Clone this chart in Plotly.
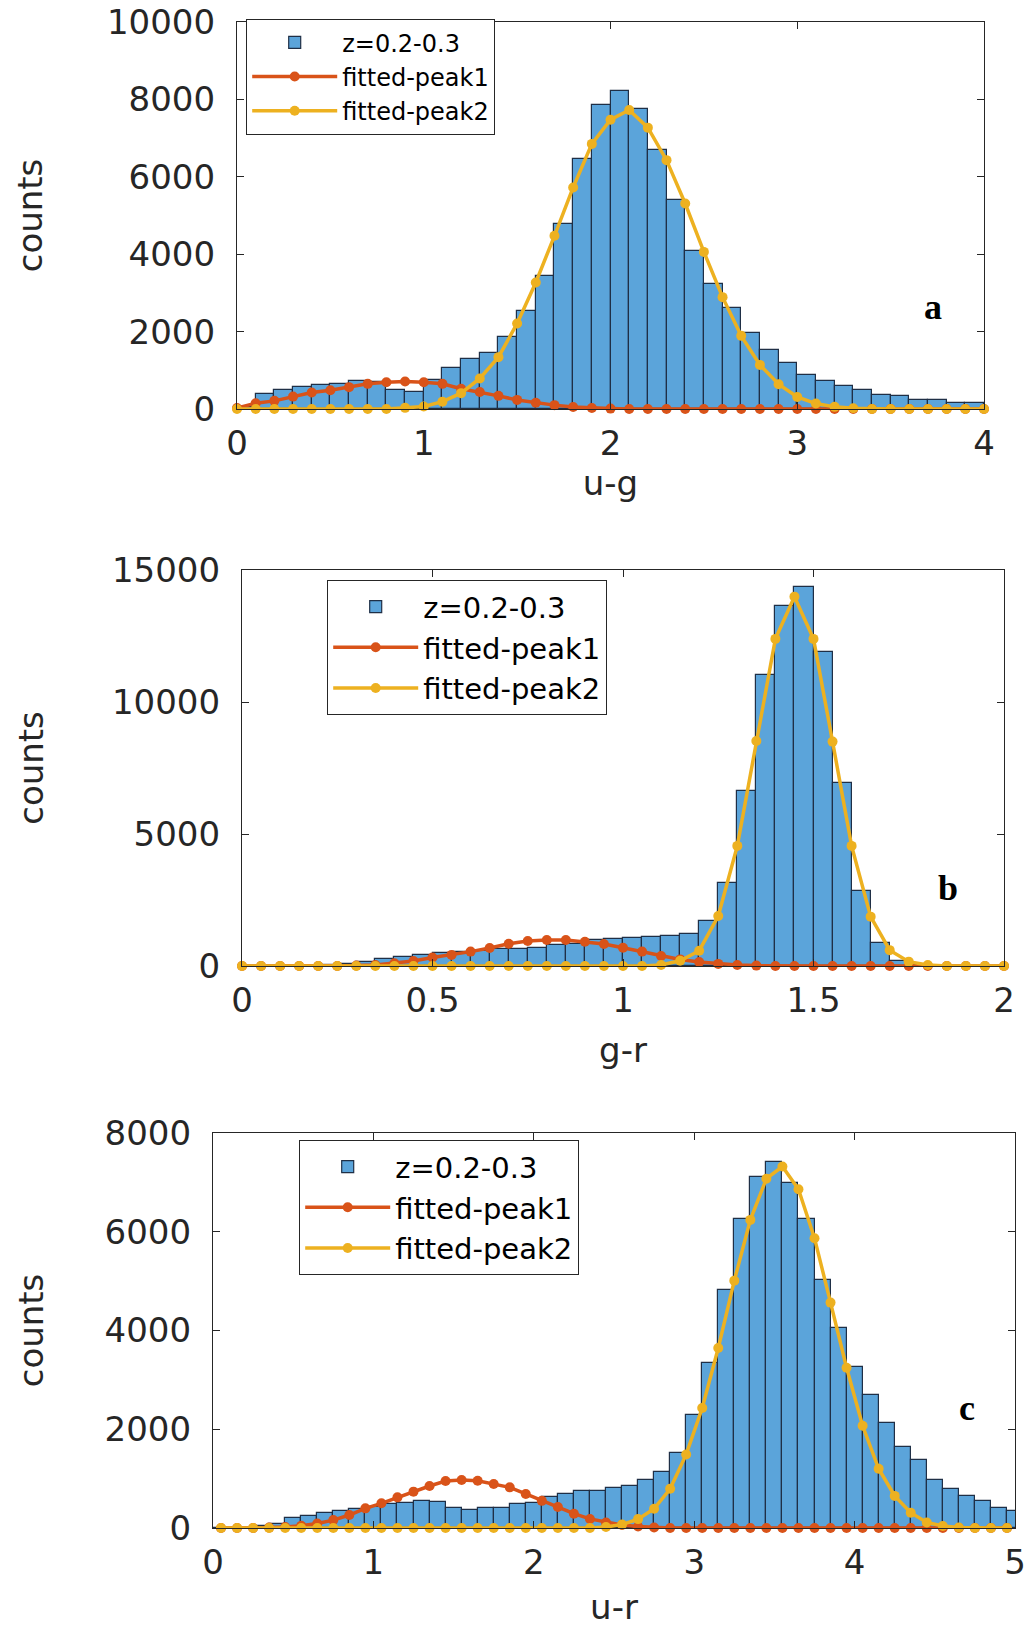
import plotly.graph_objects as go

W, H = 1035, 1627

# ---------------- Panel a : u-g ----------------
a_bin_centers = [0.05, 0.15, 0.25, 0.35, 0.45, 0.55, 0.65, 0.75, 0.85, 0.95,
                 1.05, 1.15, 1.25, 1.35, 1.45, 1.55, 1.65, 1.75, 1.85, 1.95,
                 2.05, 2.15, 2.25, 2.35, 2.45, 2.55, 2.65, 2.75, 2.85, 2.95,
                 3.05, 3.15, 3.25, 3.35, 3.45, 3.55, 3.65, 3.75, 3.85, 3.95]
a_counts = [60, 400, 500, 580, 610, 650, 730, 700, 500, 440,
            750, 1060, 1300, 1460, 1850, 2540, 3430, 4790, 6460, 7850,
            8210, 7760, 6700, 5410, 4080, 3240, 2600, 1975, 1530, 1200,
            875, 725, 600, 490, 350, 325, 240, 225, 165, 165]
a_fit_x = [0.0, 0.1, 0.2, 0.3, 0.4, 0.5, 0.6, 0.7, 0.8, 0.9,
           1.0, 1.1, 1.2, 1.3, 1.4, 1.5, 1.6, 1.7, 1.8, 1.9,
           2.0, 2.1, 2.2, 2.3, 2.4, 2.5, 2.6, 2.7, 2.8, 2.9,
           3.0, 3.1, 3.2, 3.3, 3.4, 3.5, 3.6, 3.7, 3.8, 3.9, 4.0]
a_peak1 = [25, 150, 210, 320, 425, 485, 565, 650, 690, 710,
           690, 650, 525, 440, 340, 235, 160, 100, 50, 25,
           10, 0, 0, 0, 0, 0, 0, 0, 0, 0,
           0, 0, 0, 0, 0, 0, 0, 0, 0, 0, 0]
a_peak2 = [0, 0, 0, 0, 0, 0, 0, 0, 0, 30,
           65, 190, 410, 790, 1340, 2210, 3270, 4475, 5725, 6850,
           7475, 7725, 7270, 6430, 5310, 4060, 2890, 1890, 1140, 640,
           310, 140, 55, 20, 0, 0, 0, 0, 0, 0, 0]
a_xticks = [0, 1, 2, 3, 4]
a_yticks = [0, 2000, 4000, 6000, 8000, 10000]

# ---------------- Panel b : g-r ----------------
b_bin_centers = [0.025, 0.075, 0.125, 0.175, 0.225, 0.275, 0.325, 0.375, 0.425, 0.475,
                 0.525, 0.575, 0.625, 0.675, 0.725, 0.775, 0.825, 0.875, 0.925, 0.975,
                 1.025, 1.075, 1.125, 1.175, 1.225, 1.275, 1.325, 1.375, 1.425, 1.475,
                 1.525, 1.575, 1.625, 1.675, 1.725, 1.775, 1.825, 1.875, 1.925, 1.975]
b_counts = [0, 0, 0, 0, 20, 60, 170, 280, 350, 430,
            505, 530, 560, 630, 640, 690, 790, 820, 985, 1010,
            1060, 1110, 1120, 1210, 1700, 3130, 6640, 11030, 13620, 14340,
            11910, 6920, 2840, 860, 190, 30, 0, 0, 0, 0]
b_fit_x = [0.0, 0.05, 0.1, 0.15, 0.2, 0.25, 0.3, 0.35, 0.4, 0.45,
           0.5, 0.55, 0.6, 0.65, 0.7, 0.75, 0.8, 0.85, 0.9, 0.95,
           1.0, 1.05, 1.1, 1.15, 1.2, 1.25, 1.3, 1.35, 1.4, 1.45,
           1.5, 1.55, 1.6, 1.65, 1.7, 1.75, 1.8, 1.85, 1.9, 1.95, 2.0]
b_peak1 = [0, 0, 0, 0, 0, 0, 15, 40, 100, 190,
           320, 420, 545, 680, 840, 950, 985, 985, 920, 835,
           690, 545, 380, 250, 150, 80, 40, 15, 0, 0,
           0, 0, 0, 0, 0, 0, 0, 0, 0, 0, 0]
b_peak2 = [0, 0, 0, 0, 0, 0, 0, 0, 0, 0,
           0, 0, 0, 0, 0, 0, 0, 0, 0, 0,
           0, 0, 40, 200, 580, 1895, 4550, 8525, 12390, 13990,
           12390, 8500, 4550, 1870, 600, 165, 35, 0, 0, 0, 0]
b_xticks = [0, 0.5, 1, 1.5, 2]
b_xticklabels = ["0", "0.5", "1", "1.5", "2"]
b_yticks = [0, 5000, 10000, 15000]

# ---------------- Panel c : u-r ----------------
c_bin_centers = [0.0, 0.1, 0.2, 0.3, 0.4, 0.5, 0.6, 0.7, 0.8, 0.9,
                 1.0, 1.1, 1.2, 1.3, 1.4, 1.5, 1.6, 1.7, 1.8, 1.9,
                 2.0, 2.1, 2.2, 2.3, 2.4, 2.5, 2.6, 2.7, 2.8, 2.9,
                 3.0, 3.1, 3.2, 3.3, 3.4, 3.5, 3.6, 3.7, 3.8, 3.9,
                 4.0, 4.1, 4.2, 4.3, 4.4, 4.5, 4.6, 4.7, 4.8, 4.9, 5.0]
c_counts = [0, 0, 0, 40, 90, 195, 245, 310, 345, 380,
            430, 480, 500, 555, 520, 410, 365, 400, 410, 480,
            515, 630, 695, 740, 740, 805, 845, 975, 1140, 1525,
            2290, 3340, 4825, 6260, 7110, 7410, 6990, 6260, 5025, 4050,
            3260, 2700, 2120, 1640, 1370, 975, 795, 640, 550, 405, 345]
c_fit_x = [0.05, 0.15, 0.25, 0.35, 0.45, 0.55, 0.65, 0.75, 0.85, 0.95,
           1.05, 1.15, 1.25, 1.35, 1.45, 1.55, 1.65, 1.75, 1.85, 1.95,
           2.05, 2.15, 2.25, 2.35, 2.45, 2.55, 2.65, 2.75, 2.85, 2.95,
           3.05, 3.15, 3.25, 3.35, 3.45, 3.55, 3.65, 3.75, 3.85, 3.95,
           4.05, 4.15, 4.25, 4.35, 4.45, 4.55, 4.65, 4.75, 4.85, 4.95]
c_peak1 = [0, 0, 0, 8, 20, 45, 90, 160, 263, 398,
           500, 621, 736, 850, 952, 972, 958, 891, 823, 689,
           550, 425, 290, 184, 113, 60, 30, 10, 0, 0,
           0, 0, 0, 0, 0, 0, 0, 0, 0, 0,
           0, 0, 0, 0, 0, 0, 0, 0, 0, 0]
c_peak2 = [0, 0, 0, 0, 0, 0, 0, 0, 0, 0,
           0, 0, 0, 0, 0, 0, 0, 0, 0, 0,
           0, 0, 0, 0, 20, 70, 180, 390, 795, 1490,
           2430, 3645, 5010, 6240, 7075, 7320, 6860, 5870, 4565, 3245,
           2070, 1200, 650, 310, 113, 40, 10, 0, 0, 0]
c_xticks = [0, 1, 2, 3, 4, 5]
c_yticks = [0, 2000, 4000, 6000, 8000]

legend_labels = ["z=0.2-0.3", "fitted-peak1", "fitted-peak2"]
panel_letters = ["a", "b", "c"]
x_titles = ["u-g", "g-r", "u-r"]

BAR_FILL = "#5BA4DA"
BAR_EDGE = "#1F2F46"
RED = "#D95319"
YEL = "#EDB120"
AX = "#262626"
FONT = "DejaVu Sans"

# pixel boxes of the three axes (left, right, top, bottom)
boxes = [(237, 984, 22, 409), (242, 1004, 570, 966), (213, 1015, 1133, 1528)]
# legend (left px, top px, font size)
legend_pos = [(246, 19, 24), (327, 580, 29), (299, 1140, 29)]
# per-panel spacing tweaks: (x tick standoff, x title standoff, y title standoff)
spacing = [(4, 4, 54), (4, 19, 58), (4, 20, 50)]

panels = [
    (a_bin_centers, a_counts, 0.1, a_fit_x, a_peak1, a_peak2, [0, 4], [0, 10000],
     a_xticks, [str(v) for v in a_xticks], a_yticks, (3.726, 2625)),
    (b_bin_centers, b_counts, 0.05, b_fit_x, b_peak1, b_peak2, [0, 2], [0, 15000],
     b_xticks, b_xticklabels, b_yticks, (1.854, 2956)),
    (c_bin_centers, c_counts, 0.1, c_fit_x, c_peak1, c_peak2, [0, 5], [0, 8000],
     c_xticks, [str(v) for v in c_xticks], c_yticks, (4.70, 2430)),
]

fig = go.Figure()
layout = dict(width=W, height=H, margin=dict(l=0, r=0, t=0, b=0),
              paper_bgcolor="white", plot_bgcolor="white", showlegend=True,
              font=dict(family=FONT, color=AX))
annotations = []

for i, (bx, bc, bw, fx, p1, p2, xr, yr, xt, xtl, yt, lab) in enumerate(panels):
    sfx = "" if i == 0 else str(i + 1)
    xa, ya = "x" + sfx, "y" + sfx
    leg = "legend" + sfx
    fig.add_trace(go.Bar(x=bx, y=bc, width=bw, name=legend_labels[0],
                         marker=dict(color=BAR_FILL, line=dict(color=BAR_EDGE, width=1.2)),
                         xaxis=xa, yaxis=ya, legend=leg))
    fig.add_trace(go.Scatter(x=fx, y=p1, mode="lines+markers", name=legend_labels[1],
                             line=dict(color=RED, width=3.5), marker=dict(color=RED, size=10),
                             cliponaxis=False, xaxis=xa, yaxis=ya, legend=leg))
    fig.add_trace(go.Scatter(x=fx, y=p2, mode="lines+markers", name=legend_labels[2],
                             line=dict(color=YEL, width=3.5), marker=dict(color=YEL, size=10),
                             cliponaxis=False, xaxis=xa, yaxis=ya, legend=leg))
    l, r, t, b = boxes[i]
    xs, xts, yts = spacing[i]
    axis_common = dict(showline=True, linecolor=AX, linewidth=1.2, mirror="ticks",
                       ticks="inside", ticklen=7, tickcolor=AX, tickwidth=1,
                       showgrid=False, zeroline=False, automargin=False,
                       ticklabeloverflow="allow",
                       tickfont=dict(family=FONT, size=34, color=AX))
    layout["xaxis" + sfx] = dict(axis_common, domain=[l / W, r / W], range=xr,
                                 anchor=ya, tickvals=xt, ticktext=xtl,
                                 ticklabelstandoff=xs,
                                 title=dict(text=x_titles[i], standoff=xts,
                                            font=dict(family=FONT, size=34, color=AX)))
    layout["yaxis" + sfx] = dict(axis_common, domain=[1 - b / H, 1 - t / H], range=yr,
                                 anchor=xa, tickvals=yt, ticktext=[str(v) for v in yt],
                                 ticklabelstandoff=14,
                                 title=dict(text="counts", standoff=yts,
                                            font=dict(family=FONT, size=34, color=AX)))
    lx, ly, fs = legend_pos[i]
    layout[leg] = dict(x=lx / W, y=1 - ly / H, xanchor="left", yanchor="top",
                       bgcolor="white", bordercolor=AX, borderwidth=1.2,
                       font=dict(family=FONT, size=fs, color="black"),
                       itemwidth=85, tracegroupgap=0, traceorder="normal")
    annotations.append(dict(x=lab[0], y=lab[1], xref=xa, yref=ya, showarrow=False,
                            text="<b>%s</b>" % panel_letters[i],
                            font=dict(family="Liberation Serif", size=36, color="black")))

layout["annotations"] = annotations
layout["bargap"] = 0
fig.update_layout(**layout)
fig.write_html("out.html")
